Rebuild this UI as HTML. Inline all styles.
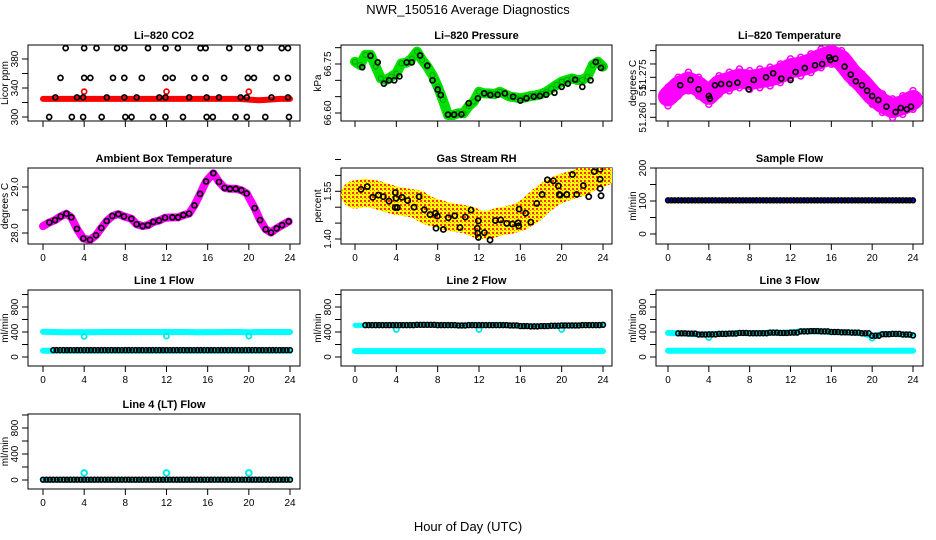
<!DOCTYPE html>
<html><head><meta charset="utf-8">
<style>
html,body{margin:0;padding:0;background:#fff;}
svg{display:block;font-family:"Liberation Sans",Arial,sans-serif;}
.pt{font-size:11px;font-weight:bold;text-anchor:middle;}
.tk{font-size:10px;text-anchor:middle;}
.al{font-size:10px;text-anchor:middle;}
</style></head>
<body>
<svg id="chart" width="936" height="540" viewBox="0 0 936 540" xmlns="http://www.w3.org/2000/svg">
<defs>
<pattern id="rhpat" width="4" height="4" patternUnits="userSpaceOnUse">
<rect width="4" height="4" fill="#ffff00"/><rect x="0" y="0" width="2" height="2" fill="#ff3000"/><rect x="2" y="2" width="1" height="1" fill="#ff8000"/>
</pattern>
</defs>
<text x="468" y="14" font-size="13" text-anchor="middle">NWR_150516  Average Diagnostics</text>
<text x="468" y="531" font-size="13" text-anchor="middle">Hour of Day (UTC)</text>
<g id="plots"></g>
</svg>
<script>
// ---------- data ----------
const hours = [0,1,2,3,4,5,6,7,8,9,10,11,12,13,14,15,16,17,18,19,20,21,22,23,24];
const halfHours = [0,0.5,1,1.5,2,2.5,3,3.5,4,4.5,5,5.5,6,6.5,7,7.5,8,8.5,9,9.5,10,10.5,11,11.5,12,12.5,13,13.5,14,14.5,15,15.5,16,16.5,17,17.5,18,18.5,19,19.5,20,20.5,21,21.5,22,22.5,23,23.5,24];
const xTicks = [0,4,8,12,16,20,24];

// CO2
const co2RedVals = [325,325,325,325,325,325,325,325,325,325,325,325,325,325,325,325,325,325,325,325,324,323,324,325,325];
const co2SpikeT = [4,12,20];
const co2SpikeV = [335,335,335];
const co2BlackT = [2.2,4.0,5.2,7.2,7.9,10.2,11.9,13.1,15.3,15.8,18.1,19.9,21.1,23.2,23.8,
  1.7,4.0,4.6,6.8,7.9,9.6,11.9,12.6,14.7,15.8,17.6,19.9,20.5,22.7,23.8,
  1.2,3.3,3.9,6.2,7.9,9.1,11.3,11.9,14.2,15.9,17.1,19.2,19.8,22.2,23.8,
  0.6,2.8,3.9,5.7,8.0,8.6,10.7,11.9,13.6,15.9,16.5,18.7,19.8,21.6,23.9];
const co2BlackV = [395,395,395,395,395,395,395,395,395,395,395,395,395,395,395,
  354,354,354,354,354,354,354,354,354,354,354,354,354,354,354,
  327,327,327,327,327,327,327,327,327,327,327,327,327,327,327,
  300,300,300,300,300,300,300,300,300,300,300,300,300,300,300];

// Pressure
const pressGreenV = [66.757,66.747,66.778,66.778,66.742,66.706,66.701,66.711,66.721,66.752,66.754,66.767,66.788,66.762,66.742,66.716,66.681,66.640,66.594,66.594,66.599,66.599,66.621,66.635,66.665,66.660,66.660,66.658,66.665,66.658,66.650,66.648,66.645,66.648,66.652,66.654,66.658,66.665,66.675,66.686,66.696,66.701,66.706,66.701,66.701,66.711,66.747,66.757,66.742];
const pressBlackT = [0.7,1.5,2.2,2.8,3.3,3.8,4.3,5.0,5.5,6.3,7.0,7.5,8.0,8.3,9.0,9.6,10.3,11.0,11.9,12.5,13.1,13.8,14.5,15.3,16.0,16.6,17.3,17.9,18.5,19.3,20.0,20.6,21.3,22.0,22.8,23.3,23.8];
const pressBlackV = [66.740,66.775,66.755,66.690,66.700,66.700,66.712,66.755,66.755,66.776,66.745,66.700,66.672,66.655,66.595,66.595,66.596,66.630,66.645,66.660,66.655,66.656,66.660,66.650,66.638,66.645,66.650,66.652,66.656,66.662,66.680,66.690,66.702,66.680,66.700,66.756,66.738];

// Li-820 temperature
const tempMagV = [51.2678,51.2715,51.2734,51.2715,51.2684,51.2721,51.2734,51.2746,51.2740,51.2746,51.2753,51.2765,51.2784,51.2790,51.2803,51.2821,51.2834,51.2815,51.2765,51.2728,51.2684,51.2653,51.2634,51.2646,51.2665];
const tempBlackT = [1.2,2.2,3.0,4.0,4.1,4.6,5.2,6.0,6.8,7.9,8.4,9.6,10.3,11.1,12.0,12.5,13.4,14.4,15.1,15.8,15.9,16.4,17.3,17.9,18.4,19.0,19.5,20.0,20.6,21.4,22.3,22.8,23.4,23.8];
const tempBlackV = [51.2720,51.2740,51.2705,51.2680,51.2670,51.2720,51.2725,51.2725,51.2730,51.2705,51.2740,51.2750,51.2765,51.2745,51.2740,51.2770,51.2785,51.2795,51.2800,51.2825,51.2815,51.2820,51.2790,51.2760,51.2735,51.2720,51.2700,51.2680,51.2665,51.2640,51.2620,51.2635,51.2630,51.2640];

// Ambient box temperature
const ambT = [0,0.62,1.17,1.72,2.27,2.75,3.30,3.92,4.57,5.15,5.67,6.19,6.74,7.32,7.87,8.58,9.10,9.69,10.20,10.72,11.27,11.86,12.57,13.12,13.64,14.19,14.71,15.26,15.84,16.55,17.10,17.65,18.17,18.72,19.27,19.79,20.57,21.09,21.64,22.16,22.71,23.23,23.87];
const ambV = [28.15,28.23,28.28,28.36,28.42,28.34,28.09,27.88,27.85,27.95,28.11,28.26,28.37,28.41,28.36,28.31,28.19,28.15,28.17,28.24,28.27,28.33,28.34,28.34,28.39,28.42,28.60,28.85,29.12,29.30,29.11,28.98,28.96,28.96,28.93,28.86,28.54,28.28,28.08,28.01,28.10,28.17,28.25];

// Gas stream RH
const rhCloudV = [1.540,1.545,1.540,1.530,1.520,1.515,1.510,1.490,1.480,1.470,1.465,1.460,1.445,1.445,1.455,1.460,1.470,1.490,1.520,1.545,1.560,1.570,1.580,1.600,1.610];
const rhBlackT = [0.58,1.19,1.71,2.26,2.74,3.29,3.90,3.97,3.90,4.10,4.55,5.10,5.71,6.20,6.71,7.26,7.78,7.97,7.84,8.55,9.03,9.65,10.16,10.68,11.23,11.94,11.84,11.87,11.94,12.52,13.07,13.58,14.10,14.68,15.23,15.78,15.84,15.88,16.52,17.01,17.59,18.10,18.62,19.20,19.68,19.78,19.85,20.49,21.04,21.46,22.10,22.62,23.14,23.72,23.72,23.72,23.81];
const rhBlackV = [1.556,1.565,1.531,1.538,1.533,1.519,1.546,1.528,1.499,1.499,1.531,1.521,1.500,1.533,1.492,1.477,1.481,1.472,1.434,1.430,1.467,1.473,1.436,1.469,1.491,1.457,1.434,1.418,1.405,1.420,1.397,1.458,1.460,1.449,1.447,1.451,1.441,1.494,1.481,1.453,1.512,1.540,1.586,1.583,1.567,1.540,1.538,1.540,1.603,1.540,1.568,1.533,1.612,1.619,1.588,1.559,1.536];

// Sample flow
const sampleBlueV = [103,103,103,103,103,103,103,103,103,103,103,103,103,103,103,103,103,103,103,103,103,103,103,103,103];
const sampleBlackV = [102,102,102,102,102,102,102,102,102,102,102,102,102,102,102,102,102,102,102,102,102,102,102,102,102];

// Line flows
const line1CyanHi = [405,400,395,398,395,398,400,400,400,400,400,400,400,400,400,395,398,398,400,400,395,400,400,400,400];
const line1CyanLo = [100,100,100,100,100,100,100,100,100,100,100,100,100,100,100,100,100,100,100,100,100,100,100,100,100];
const line1BlackV = [110,110,110,110,110,110,110,110,110,110,110,110,110,110,110,110,110,110,110,110,110,110,110,110,110];
const line1DipT = [4,12,20];
const line1DipV = [330,335,335];

const line2CyanHi = [505,505,510,510,505,510,515,515,510,510,505,510,505,510,510,505,495,490,495,500,505,505,505,510,510];
const line2CyanLo = [95,95,95,95,95,95,95,95,95,95,95,95,95,95,95,95,95,95,95,95,95,95,95,95,95];
const line2BlackV = [510,510,510,510,510,510,515,515,510,510,505,510,510,510,510,505,495,490,495,500,505,505,510,510,515];
const line2DipT = [4,12,20];
const line2DipV = [440,440,440];

const line3CyanLo = [100,100,100,100,100,100,100,100,100,100,100,100,100,100,100,100,100,100,100,100,100,100,100,100,100];
const line3BlackV = [385,379,375,360,362,370,375,385,380,380,390,385,390,410,415,410,400,395,390,380,340,365,370,360,345];
const line3DipT = [4,20];
const line3DipV = [310,300];

const line4CyanV = [5,5,5,5,5,5,5,5,5,5,5,5,5,5,5,5,5,5,5,5,5,5,5,5,5];
const line4BlackV = [5,5,5,5,5,5,5,5,5,5,5,5,5,5,5,5,5,5,5,5,5,5,5,5,5];
const line4SpikeT = [4,12,20];
const line4SpikeV = [108,108,108];

// ---------- drawing ----------
const NS = "http://www.w3.org/2000/svg";
const root = document.getElementById("plots");
function mk(tag, attrs, parent){
  const e = document.createElementNS(NS, tag);
  for (const k in attrs) e.setAttribute(k, attrs[k]);
  (parent||root).appendChild(e);
  return e;
}
function sx(p,t){ return p.x0 + (p.x1 - p.x0) * t / 24; }
function sy(p,v){ return p.yp0 + (v - p.yv0) * (p.yp1 - p.yp0) / (p.yv1 - p.yv0); }

function panel(cfg){
  const g = mk("g", {});
  
  
  const t = mk("text", {x:(cfg.bx0+cfg.bx1)/2, y:cfg.by0-6, class:"pt"}, g);
  t.textContent = cfg.title;
  
  
  const b = mk("rect", {x:cfg.bx0, y:cfg.by0, width:cfg.bx1-cfg.bx0, height:cfg.by1-cfg.by0, fill:"none", stroke:"#000", "stroke-width":1}, g);
  
  
  xTicks.forEach(v=>{
    const x = sx(cfg, v);
    const l = mk("line", {x1:x, x2:x, y1:cfg.by1, y2:cfg.by1+6, stroke:"#000"}, g);
    
    
    if (cfg.xlabels){
      const tx = mk("text", {x:x, y:cfg.by1+17, class:"tk"}, g);
      tx.textContent = String(v);
      
      
    }
  });
  cfg.yticks.forEach(v=>{
    const y = sy(cfg, v);
    const l = mk("line", {x1:cfg.bx0-6, x2:cfg.bx0, y1:y, y2:y, stroke:"#000"}, g);
    
    
  });
  cfg.ylabels.forEach((s,i)=>{
    const y = sy(cfg, cfg.ylabelVals[i]);
    const tx = mk("text", {x:0, y:0, class:"tk", transform:`translate(${cfg.bx0-10},${y}) rotate(-90)`}, g);
    tx.textContent = s;
    
    
  });
  const yt = mk("text", {x:0, y:0, class:"al", transform:`translate(${cfg.bx0-20},${(cfg.by0+cfg.by1)/2}) rotate(-90)`}, g);
  yt.textContent = cfg.ytitle;
  
  
  const clip = mk("clipPath", {id:"c_"+cfg.name}, g);
  mk("rect", {x:cfg.bx0, y:cfg.by0, width:cfg.bx1-cfg.bx0, height:cfg.by1-cfg.by0}, clip);
  const dg = mk("g", {"clip-path":`url(#c_${cfg.name})`}, g);
  
  
  return dg;
}
function band(p, g, ts, vs, color, width, name){
  const pts = ts.map((t,i)=> sx(p,t).toFixed(1)+","+sy(p,vs[i]).toFixed(1)).join(" ");
  const pl = mk("polyline", {points:pts, fill:"none", stroke:color, "stroke-width":width, "stroke-linejoin":"round", "stroke-linecap":"round"}, g);
  
  
}
function rings(p, g, ts, vs, color, name, r, sw){
  ts.forEach((t,i)=>{
    const c = mk("circle", {cx:sx(p,t), cy:sy(p,vs[i]), r:r||2.5, fill:"none", stroke:color, "stroke-width":sw||1.7}, g);
    
    
  });
}
function hourlyRings(p, g, vs, color, name, start){
  vs.forEach((v,i)=>{
    if (i < (start||0)) return;
    [0, 0.33, 0.66].forEach(o=>{
      const t = hours[i] + o;
      if (t > 24) return;
      const c = mk("circle", {cx:sx(p,t), cy:sy(p,v), r:2.4, fill:"none", stroke:color, "stroke-width":1.6}, g);
      
      
    });
  });
}

const C1 = {bx0:28, bx1:300, x0:43, x1:290};
const C2 = {bx0:341, bx1:612, x0:355, x1:603};
const C3 = {bx0:656, bx1:923, x0:668, x1:913};
const R1 = {by0:45, by1:121}, R2 = {by0:168, by1:244}, R3 = {by0:290, by1:366}, R4 = {by0:414, by1:489};

let p = Object.assign({name:"co2-panel", title:"Li\u2013820 CO2", ytitle:"Licor ppm", yv0:300, yp0:117, yv1:380, yp1:59, yticks:[300,320,340,360,380], ylabels:["300","340","380"], ylabelVals:[300,340,380], xlabels:false}, C1, R1);
let g = panel(p);
band(p, g, hours, co2RedVals, "#ff0000", 6, "co2-red-band");
rings(p, g, co2SpikeT, co2SpikeV, "#ff0000", "co2-red-spike");
rings(p, g, co2BlackT, co2BlackV, "#000", "co2-mean-point");

p = Object.assign({name:"pressure-panel", title:"Li\u2013820 Pressure", ytitle:"kPa", yv0:66.60, yp0:113, yv1:66.75, yp1:64, yticks:[66.60,66.65,66.70,66.75,66.80], ylabels:["66.60","66.75"], ylabelVals:[66.60,66.75], xlabels:false}, C2, R1);
g = panel(p);
band(p, g, halfHours, pressGreenV, "#00e000", 10, "pressure-green-band");
rings(p, g, halfHours, pressGreenV, "#00a000", "pressure-green-point", 2.5, 1);
rings(p, g, pressBlackT, pressBlackV, "#000", "pressure-mean-point");

p = Object.assign({name:"li820-temperature-panel", title:"Li\u2013820 Temperature", ytitle:"degrees C", yv0:51.260, yp0:117.3, yv1:51.275, yp1:77.3, yticks:[51.260,51.265,51.270,51.275,51.280,51.285], ylabels:["51.260","51","51.275"], ylabelVals:[51.260,51.270,51.276], xlabels:false}, C3, R1);
g = panel(p);
band(p, g, hours, tempMagV, "#ff00ff", 20, "li820-temp-magenta-band");
rings(p, g, hours, tempMagV.map(v=>v+0.0035), "#ff00ff", "li820-temp-magenta-point", 3, 1.5);
rings(p, g, hours, tempMagV.map(v=>v-0.0035), "#ff00ff", "li820-temp-magenta-point", 3, 1.5);
rings(p, g, tempBlackT, tempBlackV, "#000", "li820-temp-mean-point");

p = Object.assign({name:"ambient-temperature-panel", title:"Ambient Box Temperature", ytitle:"degrees C", yv0:28.0, yp0:233, yv1:29.0, yp1:187, yticks:[28.0,28.5,29.0], ylabels:["28.0","29.0"], ylabelVals:[28.0,29.0], xlabels:true}, C1, R2);
g = panel(p);
band(p, g, ambT, ambV, "#ff00ff", 8, "ambient-magenta-band");
rings(p, g, ambT.slice(1), ambV.slice(1), "#000", "ambient-mean-point");

p = Object.assign({name:"gas-rh-panel", title:"Gas Stream RH", ytitle:"percent", yv0:1.40, yp0:239, yv1:1.55, yp1:191.3, yticks:[1.40,1.45,1.50,1.55,1.60,1.65], ylabels:["1.40","1.55"], ylabelVals:[1.40,1.55], xlabels:true}, C2, R2);
g = panel(p);
band(p, g, hours, rhCloudV, "url(#rhpat)", 28, "rh-cloud-band");
rings(p, g, rhBlackT, rhBlackV, "#000", "rh-mean-point", 2.6, 1.7);

p = Object.assign({name:"sample-flow-panel", title:"Sample Flow", ytitle:"ml/min", yv0:0, yp0:234, yv1:100, yp1:201, yticks:[0,50,100,150,200], ylabels:["0","100","200"], ylabelVals:[0,100,200], xlabels:true}, C3, R2);
g = panel(p);
band(p, g, hours, sampleBlueV, "#0000ff", 4, "sample-flow-blue-band");
hourlyRings(p, g, sampleBlackV, "#000", "sample-flow-mean-point", 0);

const flowTicks = [0,200,400,600,800,1000];
p = Object.assign({name:"line1-flow-panel", title:"Line 1 Flow", ytitle:"ml/min", yv0:0, yp0:357, yv1:400, yp1:332, yticks:flowTicks, ylabels:["0","400","800"], ylabelVals:[0,400,800], xlabels:true}, C1, R3);
g = panel(p);
band(p, g, hours, line1CyanHi, "#00ffff", 6, "line1-cyan-high-band");
band(p, g, hours, line1CyanLo, "#00ffff", 6, "line1-cyan-low-band");
rings(p, g, line1DipT, line1DipV, "#00e8e8", "line1-dip-point", 2.5, 1.8);
hourlyRings(p, g, line1BlackV, "#000", "line1-mean-point", 1);

p = Object.assign({name:"line2-flow-panel", title:"Line 2 Flow", ytitle:"ml/min", yv0:0, yp0:357, yv1:400, yp1:332, yticks:flowTicks, ylabels:["0","400","800"], ylabelVals:[0,400,800], xlabels:true}, C2, R3);
g = panel(p);
band(p, g, hours, line2CyanHi, "#00ffff", 5, "line2-cyan-high-band");
band(p, g, hours, line2CyanLo, "#00ffff", 6, "line2-cyan-low-band");
rings(p, g, line2DipT, line2DipV, "#00e8e8", "line2-dip-point", 2.5, 1.8);
hourlyRings(p, g, line2BlackV, "#000", "line2-mean-point", 1);

p = Object.assign({name:"line3-flow-panel", title:"Line 3 Flow", ytitle:"ml/min", yv0:0, yp0:357, yv1:400, yp1:332, yticks:flowTicks, ylabels:["0","400","800"], ylabelVals:[0,400,800], xlabels:true}, C3, R3);
g = panel(p);
band(p, g, hours, line3BlackV, "#00ffff", 6, "line3-cyan-high-band");
band(p, g, hours, line3CyanLo, "#00ffff", 6, "line3-cyan-low-band");
rings(p, g, line3DipT, line3DipV, "#00e8e8", "line3-dip-point", 2.5, 1.8);
hourlyRings(p, g, line3BlackV, "#000", "line3-mean-point", 1);

p = Object.assign({name:"line4-flow-panel", title:"Line 4 (LT) Flow", ytitle:"ml/min", yv0:0, yp0:480, yv1:400, yp1:454, yticks:flowTicks, ylabels:["0","400","800"], ylabelVals:[0,400,800], xlabels:true}, C1, R4);
g = panel(p);
band(p, g, hours, line4CyanV, "#00ffff", 5, "line4-cyan-band");
rings(p, g, line4SpikeT, line4SpikeV, "#00e8e8", "line4-spike-point", 2.8, 2);
hourlyRings(p, g, line4BlackV, "#000", "line4-mean-point", 0);
</script>
</body></html>
